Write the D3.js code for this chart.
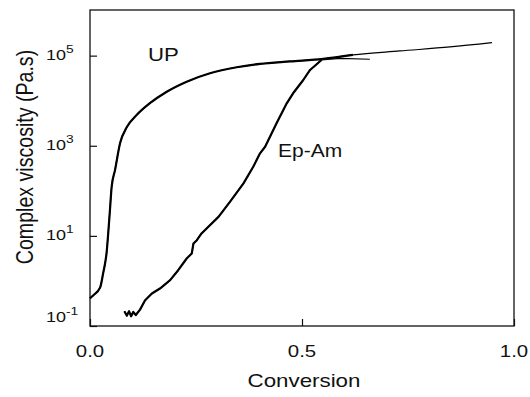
<!DOCTYPE html>
<html>
<head>
<meta charset="utf-8">
<script src="https://cdn.jsdelivr.net/npm/d3@7/dist/d3.min.js"></script>
<style>
    html, body { margin: 0; padding: 0; background: #fff; }
    svg text { font-family: "Liberation Sans", Arial, sans-serif; fill: #111; }
</style>
</head>
<body>
<svg id="chart" width="530" height="397"></svg>
<script>
// UP resin: conversion vs complex viscosity (Pa.s)
var upConversion = [0, 0.008, 0.024, 0.031, 0.036, 0.039, 0.043, 0.047, 0.051, 0.059, 0.071, 0.087, 0.110,
    0.142, 0.181, 0.228, 0.283, 0.346, 0.401, 0.472, 0.550, 0.620, 0.731, 0.849, 0.948];
var upViscosity = [0.41, 0.48, 0.72, 1.48, 2.6, 4.1, 11.5, 37, 121, 288, 1150, 2600, 4800,
    8900, 15800, 26400, 40600, 55200, 65500, 74300, 84500, 103700, 127000, 156000, 194500];

// Ep-Am resin
var epConversion = [0.081, 0.087, 0.092, 0.097, 0.102, 0.108, 0.118, 0.130, 0.146, 0.165, 0.189, 0.208,
    0.228, 0.240, 0.244, 0.252, 0.263, 0.275, 0.303, 0.330, 0.362, 0.385, 0.401, 0.413,
    0.440, 0.464, 0.479, 0.503, 0.519, 0.546, 0.590, 0.660];
var epViscosity = [0.212, 0.17, 0.212, 0.165, 0.205, 0.175, 0.231, 0.372, 0.525, 0.678, 1.04, 1.73,
    3.15, 4.06, 6.78, 8.0, 11.3, 14.6, 26.4, 57, 146, 341, 678, 950,
    3150, 8750, 14600, 28800, 48100, 80200, 86600, 83200];

var xTicks = [0, 0.5, 1];
var xTickLabels = ['0.0', '0.5', '1.0'];
var yTicks = [0.1, 10, 1000, 100000];
var yTickExponents = ['-1', '1', '3', '5'];

var seriesNames = ['UP', 'Ep-Am'];
// conversion beyond which each curve is drawn with a thin pen
var thinFrom = [0.62, 0.546];

(function () {
    var svg = d3.select('#chart'),
        plotLeft = 90, plotRight = 514, plotTop = 10, plotBottom = 326,
        stretch = 1.2;   // the scanned lettering is a little wide

    var x = d3.scaleLinear().domain([0, 1]).range([plotLeft, plotRight]);
    var y = d3.scaleLog().domain([0.1, 1.03e6]).range([plotBottom, plotTop]);

    /**
     * Text placed at (px, py), widened like the original print
     */
    var label = function (px, py, anchor, size) {
        return svg.append('text')
            .attr('transform', 'translate(' + px + ',' + py + ') scale(' + stretch + ',1)')
            .attr('text-anchor', anchor)
            .attr('font-size', size);
    };

    // inward ticks
    svg.append('g')
        .attr('transform', 'translate(0,' + plotBottom + ')')
        .call(d3.axisBottom(x).tickValues(xTicks).tickSize(-7).tickFormat(''))
        .call(function (g) { g.select('.domain').remove(); });
    svg.append('g')
        .attr('transform', 'translate(' + plotLeft + ',0)')
        .call(d3.axisLeft(y).tickValues(yTicks).tickSize(-7).tickFormat(''))
        .call(function (g) { g.select('.domain').remove(); });
    svg.selectAll('.tick line').attr('stroke', '#111').attr('stroke-width', 1.2);

    // frame
    svg.append('rect')
        .attr('x', plotLeft).attr('y', plotTop)
        .attr('width', plotRight - plotLeft).attr('height', plotBottom - plotTop)
        .attr('fill', 'none').attr('stroke', '#111').attr('stroke-width', 1.3);

    xTicks.forEach(function (t, i) {
        label(x(t), 357, 'middle', 17).text(xTickLabels[i]);
    });

    yTicks.forEach(function (t, i) {
        // the lowest label sits above the corner
        var base = i === 0 ? y(t) - 4.5 : y(t) + 4.5;
        var txt = label(46, base, 'start', 15);
        txt.append('tspan').text('10');
        txt.append('tspan').attr('dy', -7).attr('font-size', 11.5).text(yTickExponents[i]);
    });

    label(304, 387, 'middle', 18.6).text('Conversion');
    svg.append('text')
        .attr('transform', 'translate(33,157) rotate(-90) scale(1,' + stretch + ')')
        .attr('text-anchor', 'middle')
        .attr('font-size', 19.6)
        .text('Complex viscosity (Pa.s)');

    var series = [
        {pts: d3.zip(upConversion, upViscosity), curve: d3.curveMonotoneX, thin: thinFrom[0]},
        {pts: d3.zip(epConversion, epViscosity), curve: d3.curveLinear, thin: thinFrom[1]}
    ];

    series.forEach(function (s) {
        var line = d3.line()
            .x(function (d) { return x(d[0]); })
            .y(function (d) { return y(d[1]); })
            .curve(s.curve);

        svg.append('path')
            .attr('d', line(s.pts))
            .attr('fill', 'none').attr('stroke', '#000')
            .attr('stroke-width', 1.2);

        svg.append('path')
            .attr('d', line(s.pts.filter(function (d) { return d[0] <= s.thin; })))
            .attr('fill', 'none').attr('stroke', '#000')
            .attr('stroke-width', 2.2)
            .attr('stroke-linejoin', 'round');
    });

    label(148, 61, 'start', 18.5).text(seriesNames[0]);
    label(278, 157, 'start', 17.5).text(seriesNames[1]);
})();
</script>
</body>
</html>
